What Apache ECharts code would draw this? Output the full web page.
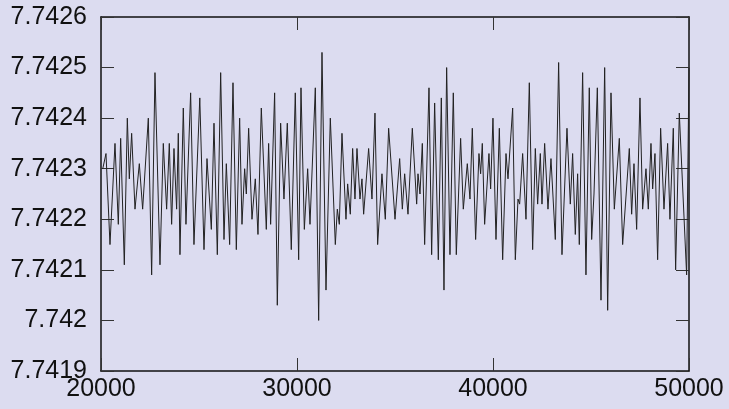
<!DOCTYPE html>
<html>
<head>
<meta charset="utf-8">
<title>signal</title>
<script src="https://cdn.jsdelivr.net/npm/echarts@6/dist/echarts.min.js"></script>
<style>
  html, body { margin: 0; padding: 0; background: #dcdcf0; }
  #chart { width: 729px; height: 409px; }
</style>
</head>
<body>
<div id="chart"></div>
<script>
// axis ranges / ticks
var xMin = 20000, xMax = 50000, xStep = 10000;
var yMin = 7.7419, yMax = 7.7426, yStep = 0.0001;

// sample positions (peaks and troughs)
var sampleX = [
  20090, 20255, 20459, 20714, 20884, 21003, 21190, 21343, 21445, 21564,
  21734, 21955, 22125, 22414, 22584, 22754, 23009, 23179, 23349, 23485,
  23604, 23723, 23859, 23944, 24029, 24199, 24335, 24573, 24743, 25040,
  25255, 25408, 25629, 25765, 25935, 26105, 26275, 26394, 26564, 26734,
  26904, 27074, 27193, 27329, 27414, 27533, 27703, 27873, 28009, 28179,
  28434, 28553, 28655, 28859, 28995, 29165, 29335, 29505, 29709, 29913,
  30085, 30204, 30374, 30544, 30663, 30935, 31105, 31275, 31479, 31700,
  31955, 32057, 32159, 32295, 32499, 32584, 32720, 32839, 32958, 33060,
  33213, 33315, 33400, 33655, 33825, 33978, 34114, 34335, 34505, 34675,
  35000,
  35238, 35374, 35493, 35663, 35884, 36105, 36173, 36275, 36394, 36513,
  36734, 36870, 37023, 37210, 37363, 37499, 37635, 37805, 37975, 38128,
  38349, 38485, 38689, 38825, 38944, 39114, 39284, 39369, 39454, 39573,
  39794, 39879, 39998,
  40153, 40323, 40493, 40663, 40765, 41003, 41139, 41275, 41360, 41513,
  41683, 41853, 42023, 42159, 42278, 42414, 42499, 42635, 42805, 42958,
  43179, 43349, 43519, 43774, 43944, 44063, 44199, 44318, 44403, 44573,
  44743, 44913,
  45034, 45153, 45323, 45510, 45697, 45850, 46020, 46190, 46445, 46615,
  46955, 47074, 47193, 47329, 47499, 47635, 47805, 47924, 48060, 48145,
  48264, 48400, 48553, 48723, 48910, 49029, 49199, 49318, 49505, 49879,
  50000
];

var sampleY = [
  7.74230, 7.74233, 7.74215, 7.74235, 7.74219, 7.74236, 7.74211, 7.74240, 7.74228, 7.74237,
  7.74222, 7.74231, 7.74222, 7.74240, 7.74209, 7.74249, 7.74211, 7.74235, 7.74222, 7.74235,
  7.74219, 7.74234, 7.74222, 7.74237, 7.74213, 7.74242, 7.74219, 7.74245, 7.74215, 7.74244,
  7.74214, 7.74232, 7.74218, 7.74239, 7.74213, 7.74249, 7.74216, 7.74231, 7.74215, 7.74247,
  7.74214, 7.74240, 7.74219, 7.74230, 7.74225, 7.74238, 7.74220, 7.74228, 7.74217, 7.74242,
  7.74218, 7.74235, 7.74219, 7.74245, 7.74203, 7.74239, 7.74224, 7.74239, 7.74214, 7.74245,
  7.74212, 7.74246, 7.74218, 7.74230, 7.74219, 7.74246, 7.74200, 7.74253, 7.74206, 7.74240,
  7.74215, 7.74222, 7.74219, 7.74237, 7.74220, 7.74227, 7.74221, 7.74234, 7.74224, 7.74234,
  7.74224, 7.74228, 7.74221, 7.74234, 7.74224, 7.74241, 7.74215, 7.74229, 7.74220, 7.74238,
  7.74220,
  7.74232, 7.74222, 7.74229, 7.74221, 7.74238, 7.74223, 7.74229, 7.74225, 7.74235, 7.74215,
  7.74246, 7.74213, 7.74243, 7.74212, 7.74244, 7.74206, 7.74250, 7.74213, 7.74245, 7.74213,
  7.74236, 7.74222, 7.74231, 7.74224, 7.74238, 7.74216, 7.74233, 7.74229, 7.74235, 7.74219,
  7.74233, 7.74226, 7.74240,
  7.74216, 7.74238, 7.74212, 7.74233, 7.74228, 7.74242, 7.74212, 7.74224, 7.74223, 7.74233,
  7.74220, 7.74247, 7.74214, 7.74234, 7.74223, 7.74233, 7.74223, 7.74235, 7.74222, 7.74232,
  7.74216, 7.74251, 7.74213, 7.74238, 7.74223, 7.74233, 7.74217, 7.74229, 7.74215, 7.74249,
  7.74209, 7.74246,
  7.74216, 7.74225, 7.74246, 7.74204, 7.74250, 7.74202, 7.74245, 7.74222, 7.74236, 7.74215,
  7.74234, 7.74221, 7.74231, 7.74218, 7.74244, 7.74222, 7.74230, 7.74222, 7.74235, 7.74226,
  7.74233, 7.74212, 7.74238, 7.74222, 7.74235, 7.74220, 7.74238, 7.74210, 7.74241, 7.74209,
  7.74250
];

var points = sampleX.map(function (x, i) { return [x, sampleY[i]]; });

var fontName = 'Liberation Sans';
var inkColor = '#111';

function tickText(v) {
  return String(parseFloat(v.toFixed(4)));
}

var myChart = echarts.init(document.getElementById('chart'));

var frameLine = { show: true, lineStyle: { color: inkColor, width: 1.5 } };
var innerTick = { show: true, inside: true, length: 13, lineStyle: { color: '#333', width: 1 } };

var option = {
  backgroundColor: '#dcdcf0',
  animation: false,
  grid: { left: 101, top: 17, width: 588, height: 354 },
  xAxis: [
    {
      type: 'value', position: 'bottom',
      min: xMin, max: xMax, interval: xStep,
      axisLine: frameLine, axisTick: innerTick,
      splitLine: { show: false },
      axisLabel: {
        margin: 6, fontSize: 25, color: inkColor, fontFamily: fontName,
        formatter: function (v) { return String(v); }
      }
    },
    {
      type: 'value', position: 'top',
      min: xMin, max: xMax, interval: xStep,
      axisLine: frameLine, axisTick: innerTick,
      splitLine: { show: false }, axisLabel: { show: false }
    }
  ],
  yAxis: [
    {
      type: 'value', position: 'left',
      min: yMin, max: yMax, interval: yStep,
      axisLine: frameLine, axisTick: innerTick,
      splitLine: { show: false },
      axisLabel: {
        margin: 14, fontSize: 25, color: inkColor, fontFamily: fontName,
        formatter: tickText
      }
    },
    {
      type: 'value', position: 'right',
      min: yMin, max: yMax, interval: yStep,
      axisLine: frameLine, axisTick: innerTick,
      splitLine: { show: false }, axisLabel: { show: false }
    }
  ],
  series: [
    {
      type: 'line',
      xAxisIndex: 0, yAxisIndex: 0,
      data: points,
      showSymbol: false,
      lineStyle: { color: '#222', width: 1 }
    }
  ]
};
myChart.setOption(option);
</script>
</body>
</html>
